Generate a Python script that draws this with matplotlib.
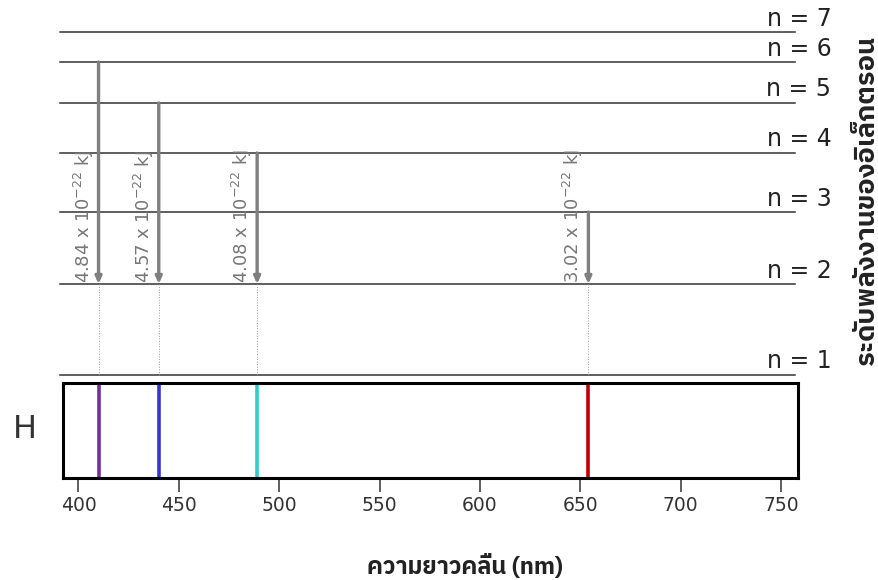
import matplotlib
matplotlib.use("Agg")
import matplotlib.pyplot as plt
from matplotlib import font_manager
from matplotlib.ft2font import FT2Font


def find_thai_font():
    # pick any installed font that has Thai glyphs, prefer ones named "Thai"
    found = []
    for f in font_manager.fontManager.ttflist:
        try:
            if 0x0E04 in FT2Font(f.fname).get_charmap():
                found.append(f.name)
        except Exception:
            pass
    found.sort(key=lambda name: 0 if "Thai" in name else 1)
    return found[0] if found else None


thai = find_thai_font()
thai_family = [thai, "DejaVu Sans"] if thai else ["DejaVu Sans"]

# energy levels (schematic heights above n = 1)
levels = [1, 2, 3, 4, 5, 6, 7]
level_height = [0, 91, 163, 222, 272, 313, 343]

# Balmer transitions down to n = 2
upper_levels = [6, 5, 4, 3]
line_nm = [410, 440, 489, 654]
energy_text = ["4.84", "4.57", "4.08", "3.02"]
line_colors = ["#7030a0", "#3535d5", "#33cccc", "#c00000"]

ticks_nm = [400, 450, 500, 550, 600, 650, 700, 750]
xlim = (392.3, 758.4)

fig = plt.figure(figsize=(8.79, 5.80), dpi=100)
ax_top = fig.add_axes([63 / 879, 1 - 383 / 580, 735 / 879, 383 / 580])
ax_spec = fig.add_axes([63 / 879, 1 - 478 / 580, 735 / 879, 95 / 580])

# --- energy level diagram ---
ax_top.set_xlim(*xlim)
ax_top.set_ylim(-8, 375)
ax_top.axis("off")

h = dict(zip(levels, level_height))
for n in levels:
    ax_top.plot([391, 757], [h[n], h[n]], color="#333333", lw=1.1, clip_on=False)
    ax_top.text(775, h[n] + 1.5, f"n = {n}", ha="right", va="bottom",
                fontsize=17, color="#222222", clip_on=False)

for n_up, nm, e in zip(upper_levels, line_nm, energy_text):
    ax_top.annotate("", xy=(nm, h[2]), xytext=(nm, h[n_up]),
                    arrowprops=dict(arrowstyle="-|>,head_length=0.4,head_width=0.18",
                                    color="#7f7f7f", lw=2.4, shrinkA=0, shrinkB=0))
    ax_top.plot([nm, nm], [h[1], h[2]], color="#999999", lw=0.7, ls=":")
    ax_top.text(nm - 7.5, h[2] + 1, f"{e} x 10$^{{-22}}$ kJ", rotation=90,
                ha="center", va="bottom", fontsize=13, color="#777777")

# --- spectrum box ---
ax_spec.set_xlim(*xlim)
ax_spec.set_ylim(0, 1)
for nm, c in zip(line_nm, line_colors):
    ax_spec.axvline(nm, color=c, lw=2.6)
ax_spec.set_yticks([])
ax_spec.set_xticks(ticks_nm)
ax_spec.tick_params(axis="x", length=10, width=1.1, color="#333333",
                    labelsize=13.5, labelcolor="#333333", pad=3)
for s in ax_spec.spines.values():
    s.set_linewidth(2.2)
    s.set_color("black")

fig.text(25 / 879, 1 - 430 / 580, "H", ha="center", va="center",
         fontsize=23, color="#333333")
fig.text(465 / 879, 1 - 567 / 580, "ความยาวคลื่น (nm)", ha="center", va="center",
         fontsize=17, fontweight="bold", color="#222222", family=thai_family)
fig.text(866 / 879, 1 - 200 / 580, "ระดับพลังงานของอิเล็กตรอน", ha="center", va="center",
         rotation=90, fontsize=19.5, fontweight="bold", color="#222222", family=thai_family)

fig.savefig("out.png", dpi=100)
